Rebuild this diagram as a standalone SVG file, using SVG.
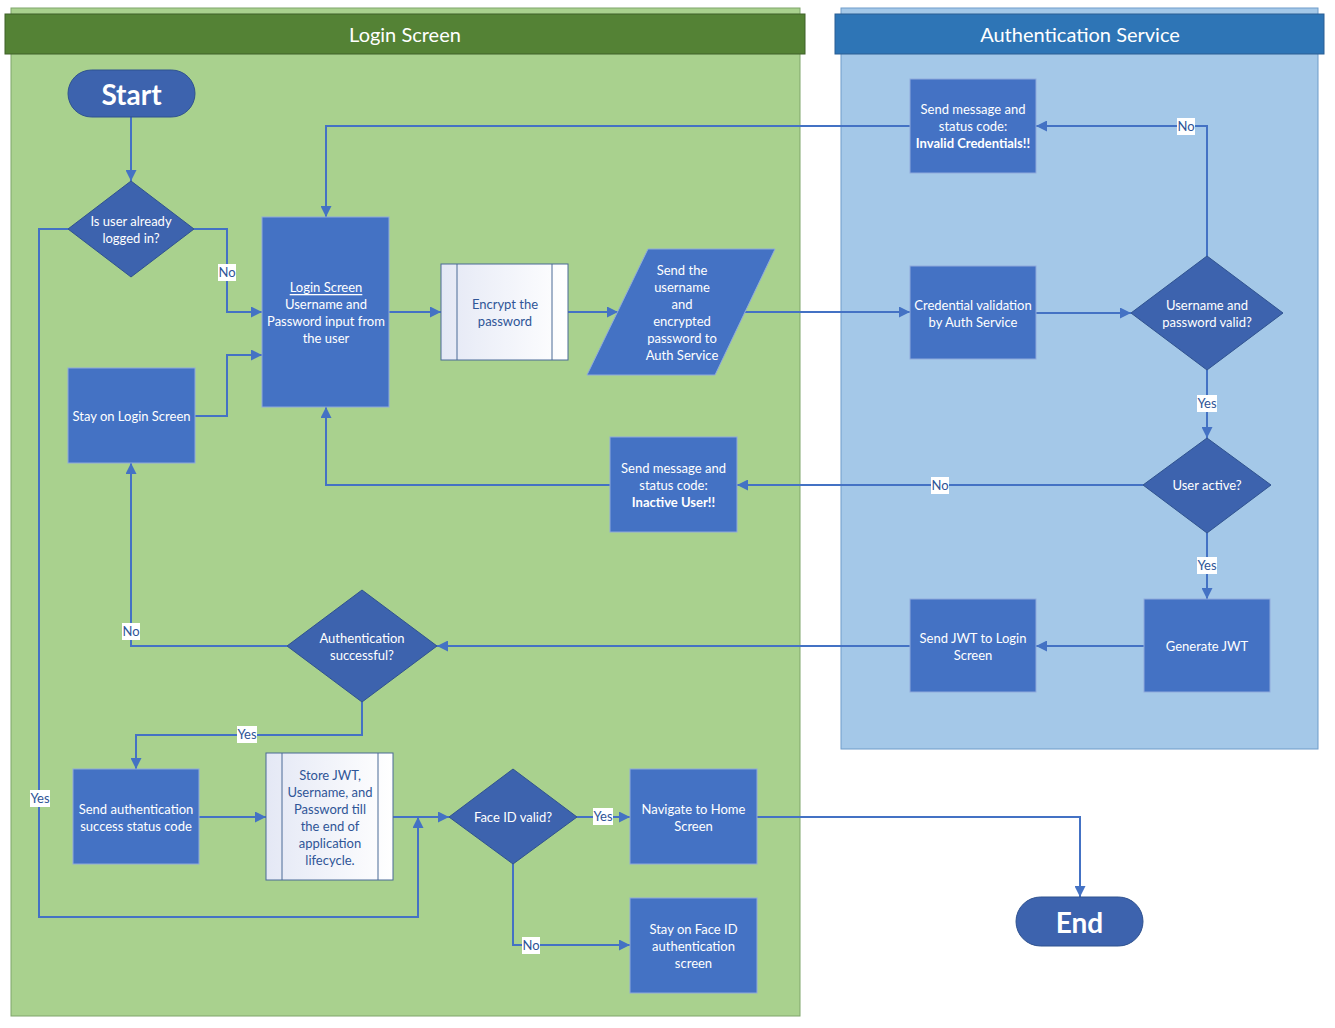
<svg xmlns="http://www.w3.org/2000/svg" width="1335" height="1028" viewBox="0 0 1335 1028">
<defs>
<marker id="arr" markerUnits="userSpaceOnUse" viewBox="0 0 10 10" refX="10" refY="5" markerWidth="11" markerHeight="11" orient="auto"><path d="M0,0 L10,5 L0,10 z" fill="#4472C4"/></marker>
<linearGradient id="sub" x1="0" y1="0" x2="1" y2="0"><stop offset="0" stop-color="#E4E8F5"/><stop offset="1" stop-color="#FFFFFF"/></linearGradient>
</defs>
<style>
text{font-family:Lato,"Liberation Sans",sans-serif;text-anchor:middle;dominant-baseline:central}
.t{fill:#fff;font-size:13px}
.b{font-weight:bold}
.h{fill:#fff;font-size:20px}
.term{fill:#fff;font-size:28px;font-weight:bold}
.box{fill:#4472C4;stroke:#8FAADC;stroke-width:1}
.dia{fill:#3D63AE;stroke:#2F528F;stroke-width:1}
.ter{fill:#3D63AE;stroke:#2F528F;stroke-width:1}
.sp{fill:url(#sub);stroke:#4A6A96;stroke-width:1}
.st{fill:#2F5597;font-size:13px}
.c{fill:none;stroke:#4472C4;stroke-width:2}
.a{marker-end:url(#arr)}
.lb{fill:#fff}
.lt{fill:#2F5597;font-size:13px}
</style>
<g id="lane-login">
<rect x="11" y="8" width="789" height="1008" fill="#A9D18E" stroke="#7FA56A" stroke-width="1"/>
<rect x="5" y="14" width="800" height="40" fill="#548235" stroke="#3F6128" stroke-width="1"/>
<text class="h" x="405" y="34">Login Screen</text>
</g>
<g id="lane-auth">
<rect x="841" y="8" width="477" height="741" fill="#A4C8E8" stroke="#6F9CC9" stroke-width="1"/>
<rect x="835" y="14" width="489" height="40" fill="#2E75B6" stroke="#2A5F93" stroke-width="1"/>
<text class="h" x="1080" y="34">Authentication Service</text>
</g>
<g id="connectors">
<path class="c a" d="M131,117 V181"/>
<path class="c a" d="M194,229 H227 V312 H262"/>
<path class="c a" d="M195,416 H227 V355 H262"/>
<path class="c a" d="M68,229 H39 V917 H418 V817"/>
<path class="c a" d="M389,312 H441"/>
<path class="c a" d="M568,312 H618"/>
<path class="c a" d="M745,312 H910"/>
<path class="c a" d="M1036,313 H1131"/>
<path class="c a" d="M1207,256 V126 H1036"/>
<path class="c a" d="M910,126 H326 V217"/>
<path class="c a" d="M1207,370 V438"/>
<path class="c a" d="M1143,485 H737"/>
<path class="c a" d="M610,485 H326 V407"/>
<path class="c a" d="M1207,533 V599"/>
<path class="c a" d="M1144,646 H1036"/>
<path class="c a" d="M910,646 H437"/>
<path class="c a" d="M287,646 H131 V463"/>
<path class="c a" d="M362,702 V735 H136 V769"/>
<path class="c a" d="M199,817 H266"/>
<path class="c a" d="M393,817 H449"/>
<path class="c a" d="M577,817 H630"/>
<path class="c a" d="M757,817 H1080 V897"/>
<path class="c a" d="M513,864 V945 H630"/>
<rect class="lb" x="218" y="264" width="18" height="17"/><text class="lt" x="227" y="272">No</text>
<rect class="lb" x="1177" y="118" width="18" height="17"/><text class="lt" x="1186" y="126">No</text>
<rect class="lb" x="1197" y="395" width="20" height="17"/><text class="lt" x="1207" y="403">Yes</text>
<rect class="lb" x="931" y="477" width="18" height="17"/><text class="lt" x="940" y="485">No</text>
<rect class="lb" x="1197" y="557" width="20" height="17"/><text class="lt" x="1207" y="565">Yes</text>
<rect class="lb" x="122" y="623" width="18" height="17"/><text class="lt" x="131" y="631">No</text>
<rect class="lb" x="237" y="726" width="20" height="17"/><text class="lt" x="247" y="734">Yes</text>
<rect class="lb" x="30" y="790" width="20" height="17"/><text class="lt" x="40" y="798">Yes</text>
<rect class="lb" x="593" y="808" width="20" height="17"/><text class="lt" x="603" y="816">Yes</text>
<rect class="lb" x="522" y="937" width="18" height="17"/><text class="lt" x="531" y="945">No</text>
</g>
<g id="start"><rect class="ter" x="68" y="70" width="127" height="47" rx="23.5"/><text class="term" x="131.5" y="94">Start</text></g>
<g id="logged-in"><polygon class="dia" points="131,181 194,229 131,277 68,229"/><text class="t" x="131" y="221">Is user already</text><text class="t" x="131" y="238">logged in?</text></g>
<g id="login-input"><rect class="box" x="262" y="217" width="127" height="190"/><text class="t" x="326" y="287" text-decoration="underline">Login Screen</text><text class="t" x="326" y="304">Username and</text><text class="t" x="326" y="321">Password input from</text><text class="t" x="326" y="338">the user</text></g>
<g id="stay-login"><rect class="box" x="68" y="368" width="127" height="95"/><text class="t" x="131.5" y="416">Stay on Login Screen</text></g>
<g id="encrypt"><rect class="sp" x="441" y="264" width="127" height="96"/><line x1="457" y1="264" x2="457" y2="360" stroke="#4A6A96"/><line x1="552" y1="264" x2="552" y2="360" stroke="#4A6A96"/><text class="st" x="505" y="304">Encrypt the</text><text class="st" x="505" y="321">password</text></g>
<g id="send-creds"><polygon class="box" points="648,249 775,249 715,375 587,375"/><text class="t" x="682" y="270">Send the</text><text class="t" x="682" y="287">username</text><text class="t" x="682" y="304">and</text><text class="t" x="682" y="321">encrypted</text><text class="t" x="682" y="338">password to</text><text class="t" x="682" y="355">Auth Service</text></g>
<g id="invalid"><rect class="box" x="910" y="79" width="126" height="94"/><text class="t" x="973" y="109">Send message and</text><text class="t" x="973" y="126">status code:</text><text class="t b" x="973" y="143">Invalid Credentials!!</text></g>
<g id="validation"><rect class="box" x="910" y="266" width="126" height="93"/><text class="t" x="973" y="305">Credential validation</text><text class="t" x="973" y="322">by Auth Service</text></g>
<g id="valid"><polygon class="dia" points="1207,256 1283,313 1207,370 1131,313"/><text class="t" x="1207" y="305">Username and</text><text class="t" x="1207" y="322">password valid?</text></g>
<g id="active"><polygon class="dia" points="1207,438 1271,485 1207,533 1143,485"/><text class="t" x="1207" y="485">User active?</text></g>
<g id="inactive"><rect class="box" x="610" y="437" width="127" height="95"/><text class="t" x="673.5" y="468">Send message and</text><text class="t" x="673.5" y="485">status code:</text><text class="t b" x="673.5" y="502">Inactive User!!</text></g>
<g id="generate"><rect class="box" x="1144" y="599" width="126" height="93"/><text class="t" x="1207" y="646">Generate JWT</text></g>
<g id="send-jwt"><rect class="box" x="910" y="599" width="126" height="93"/><text class="t" x="973" y="638">Send JWT to Login</text><text class="t" x="973" y="655">Screen</text></g>
<g id="auth-ok"><polygon class="dia" points="362,590 437,646 362,702 287,646"/><text class="t" x="362" y="638">Authentication</text><text class="t" x="362" y="655">successful?</text></g>
<g id="success-code"><rect class="box" x="73" y="769" width="126" height="95"/><text class="t" x="136" y="809">Send authentication</text><text class="t" x="136" y="826">success status code</text></g>
<g id="store"><rect class="sp" x="266" y="753" width="127" height="127"/><line x1="282" y1="753" x2="282" y2="880" stroke="#4A6A96"/><line x1="378" y1="753" x2="378" y2="880" stroke="#4A6A96"/><text class="st" x="330" y="775">Store JWT,</text><text class="st" x="330" y="792">Username, and</text><text class="st" x="330" y="809">Password till</text><text class="st" x="330" y="826">the end of</text><text class="st" x="330" y="843">application</text><text class="st" x="330" y="860">lifecycle.</text></g>
<g id="faceid"><polygon class="dia" points="513,769 577,817 513,864 449,817"/><text class="t" x="513" y="817">Face ID valid?</text></g>
<g id="home"><rect class="box" x="630" y="769" width="127" height="95"/><text class="t" x="693.5" y="809">Navigate to Home</text><text class="t" x="693.5" y="826">Screen</text></g>
<g id="stay-face"><rect class="box" x="630" y="898" width="127" height="95"/><text class="t" x="693.5" y="929">Stay on Face ID</text><text class="t" x="693.5" y="946">authentication</text><text class="t" x="693.5" y="963">screen</text></g>
<g id="end"><rect class="ter" x="1016" y="897" width="127" height="49" rx="24.5"/><text class="term" x="1079.5" y="922">End</text></g>
</svg>
